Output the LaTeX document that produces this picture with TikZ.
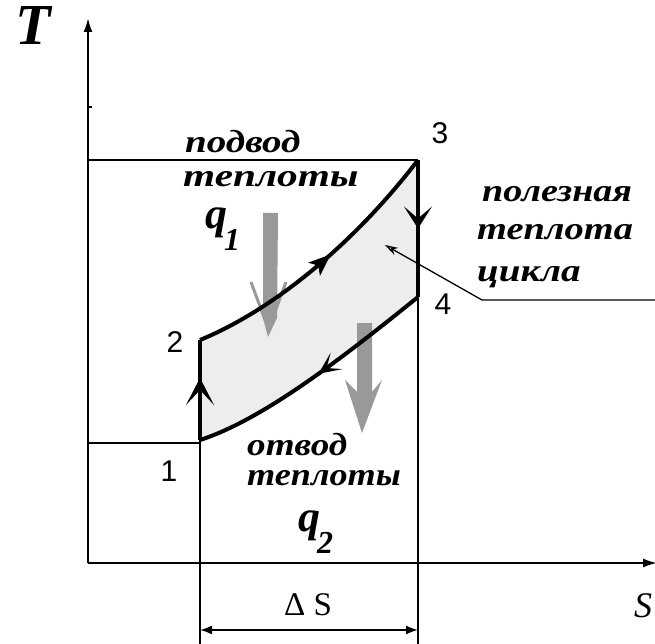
\documentclass[tikz,border=0pt]{standalone}
\usepackage{fontspec}
\setmainfont{Liberation Serif}
\newfontfamily\deco{Liberation Serif}
\newfontfamily\numf{Liberation Sans}
\usetikzlibrary{arrows.meta,decorations.markings}
\definecolor{areagray}{gray}{0.93}
\definecolor{qgray}{gray}{0.6}
\newcommand{\wide}[2][1.22]{\scalebox{#1}[1]{#2}}
\tikzset{
  cyr/.style={font=\deco\bfseries\itshape\fontsize{32}{32}\selectfont, inner sep=0pt, anchor=base west},
  numlab/.style={font=\numf\fontsize{30}{30}\selectfont, inner sep=0pt},
  qlab/.style={font=\bfseries\itshape\fontsize{44}{44}\selectfont, inner sep=0pt, anchor=base west},
  axis/.style={line width=2pt},
  thin line/.style={line width=1.8pt},
  cycle line/.style={line width=4pt, line join=round},
}
\begin{document}
\begin{tikzpicture}[x=1pt,y=-1pt]
\useasboundingbox (0,0) rectangle (655,644);
% points
\coordinate (p1) at (200,440);
\coordinate (p2) at (200,340);
\coordinate (p3) at (418,160);
\coordinate (p4) at (418,297);
\coordinate (o) at (88,563);
\coordinate (ttop) at (88,18);
\coordinate (sright) at (657,563);
\coordinate (h3) at (88,160);
\coordinate (h1) at (88,443);
\coordinate (h1r) at (200,443);
\coordinate (b1) at (200,644);
\coordinate (b4) at (418,644);
\coordinate (d1) at (200,630);
\coordinate (d4) at (418,630);
\coordinate (lend) at (655,300);
\coordinate (lknee) at (482,300);
\coordinate (ltip) at (385,245);
% shaded area
\fill[areagray] (p1) -- (p2) .. controls (280,307) and (360,236) .. (p3) -- (p4)
  .. controls (340,360) and (262,420) .. (p1) -- cycle;
% axes
\draw[axis,-{Latex[length=14pt,width=9pt]}] (o) -- (ttop);
\draw[axis,-{Latex[length=14pt,width=9pt]}] (o) -- (sright);
\draw[line width=1.5pt] (88,107) -- (92,107);
% helper lines
\draw[thin line] (h3) -- (p3);
\draw[thin line] (h1) -- (h1r);
\draw[thin line] (p1) -- (b1);
\draw[thin line] (p4) -- (b4);
\draw[thin line,{Latex[length=12pt,width=9pt]}-{Latex[length=12pt,width=9pt]}] (d1) -- (d4);
% leader
\draw[line width=1.3pt,-{Stealth[open,length=13pt,width=8pt]}] (lend) -- (lknee) -- (ltip);
% gray heat arrows
\fill[qgray] (263,213) -- (278,213) -- (277,318) -- (268,337) -- (263,318) -- cycle;
\draw[qgray,line width=3pt] (251,282) -- (265,320);
\draw[qgray,line width=3pt] (286,282) -- (272,320);
\fill[qgray] (357,323) -- (372,323) -- (372,392) -- (382,380) -- (362,433)
  -- (345,380) -- (357,392) -- cycle;
% cycle
\draw[cycle line, postaction={decorate}, decoration={markings,
  mark=at position 0.62 with {\arrow{Stealth[length=27pt,width=28pt,inset=15pt]}}}] (p1) -- (p2);
\draw[cycle line, postaction={decorate}, decoration={markings,
  mark=at position 0.55 with {\arrow{Stealth[length=22pt,width=17pt,inset=5pt]}}}]
  (p2) .. controls (280,307) and (360,236) .. (p3);
\draw[cycle line, postaction={decorate}, decoration={markings,
  mark=at position 0.5 with {\arrow{Stealth[length=22pt,width=28pt,inset=12pt]}}}] (p3) -- (p4);
\draw[cycle line, postaction={decorate}, decoration={markings,
  mark=at position 0.48 with {\arrow{Stealth[length=22pt,width=20pt,inset=12pt]}}}]
  (p4) .. controls (340,360) and (262,420) .. (p1);
% labels
\node[font=\bfseries\itshape\fontsize{58}{58}\selectfont, inner sep=0pt] (Tlab) at (33,26) {T};
\node[font=\itshape\fontsize{36}{36}\selectfont, inner sep=0pt, anchor=base west] (Slab) at (634,617) {S};
\node[font=\fontsize{33}{33}\selectfont, inner sep=0pt, anchor=base] (dS) at (308,615) {Δ S};
\node[numlab] (n1) at (169,471) {1};
\node[numlab] (n2) at (175,342) {2};
\node[numlab] (n3) at (440,133) {3};
\node[numlab] (n4) at (443,304) {4};
\node[cyr] (podvod) at (185,153) {\wide{подвод}};
\node[cyr] (teplotyA) at (183,187) {\wide[1.29]{теплоты}};
\node[cyr] (polez) at (482,202) {\wide[1.19]{полезная}};
\node[cyr] (teplota) at (477,240) {\wide[1.2]{теплота}};
\node[cyr] (cikla) at (477,281) {\wide{цикла}};
\node[cyr] (otvod) at (247,455) {\wide[1.16]{отвод}};
\node[cyr] (teplotyB) at (247,485) {\wide[1.13]{теплоты}};
\node[qlab] (q1) at (205,229) {q\kern-3pt\raisebox{-22pt}{\fontsize{32}{32}\selectfont 1}};
\node[qlab] (q2) at (298,531) {q\kern-3pt\raisebox{-22pt}{\fontsize{32}{32}\selectfont 2}};
\end{tikzpicture}
\end{document}
